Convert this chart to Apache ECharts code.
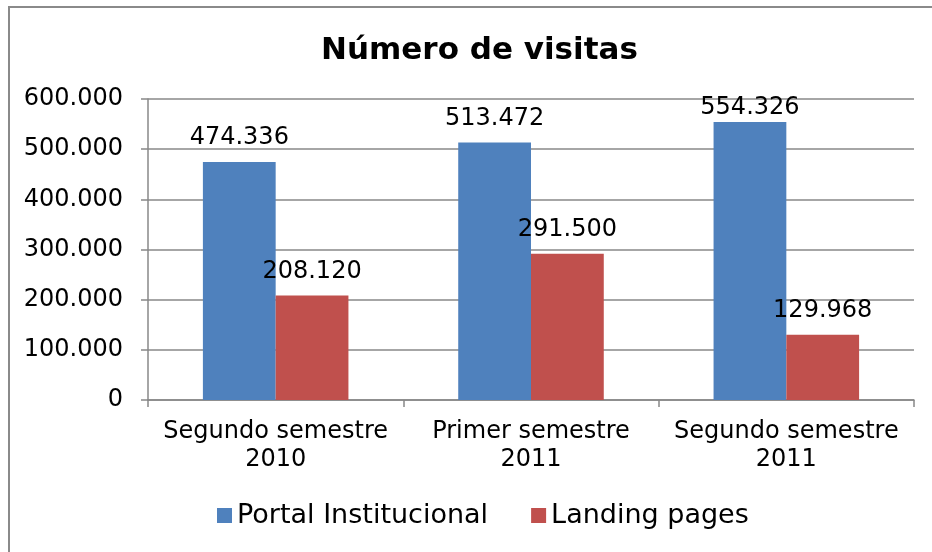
<!DOCTYPE html>
<html>
<head>
<meta charset="utf-8">
<script src="https://cdn.jsdelivr.net/npm/echarts@6/dist/echarts.min.js"></script>
<style>
  html, body { margin: 0; padding: 0; background: #fff; }
  #chart { width: 932px; height: 552px; }
</style>
</head>
<body>
<div id="chart"></div>
<script>
'use strict';

var categories = ['Segundo semestre\n2010', 'Primer semestre\n2011', 'Segundo semestre\n2011'];
var portalValues = [474336, 513472, 554326];
var landingValues = [208120, 291500, 129968];
var seriesNames = ['Portal Institucional', 'Landing pages'];

var FONT = 'DejaVu Sans';

// 474336 -> "474.336"
function fmt(v) {
  return String(v).replace(/\B(?=(\d{3})+(?!\d))/g, '.');
}

// labels that would run past the top of the plot get pulled down onto the bar (like Excel does)
function withLabels(values) {
  return values.map(function (v) {
    if (v > 540000) return { value: v, label: { distance: 2 } };
    return v;
  });
}

var chart = echarts.init(document.getElementById('chart'));

var labelStyle = {
  show: true,
  position: 'top',
  distance: 12,
  color: '#000',
  fontFamily: FONT,
  fontSize: 24,
  formatter: function (p) { return fmt(p.value); }
};

var option = {
  animation: false,
  title: {
    text: 'Número de visitas',
    left: 316,
    top: 30,
    textStyle: { fontFamily: FONT, fontSize: 31, fontWeight: 'bold', color: '#000' }
  },
  graphic: [{
    type: 'polyline',
    shape: { points: [[9, 552], [9, 7], [932, 7]] },
    style: { stroke: '#8a8a8a', lineWidth: 2, fill: null }
  }],
  legend: {
    bottom: 18,
    left: 212,
    itemWidth: 15,
    itemHeight: 15,
    itemGap: 43,
    itemStyle: { borderWidth: 0 },
    icon: 'rect',
    textStyle: { fontFamily: FONT, fontSize: 27, color: '#000' },
    data: seriesNames
  },
  grid: { left: 148, right: 18, top: 99, bottom: 152 },
  xAxis: {
    type: 'category',
    data: categories,
    axisLine: { lineStyle: { color: '#888', width: 1.5 } },
    axisTick: { show: true, length: 7, interval: 0, alignWithLabel: false, lineStyle: { color: '#888', width: 1.5 } },
    axisLabel: { interval: 0, fontFamily: FONT, fontSize: 24, color: '#000', lineHeight: 28, margin: 18 }
  },
  yAxis: {
    type: 'value',
    min: 0,
    max: 600000,
    interval: 100000,
    axisLine: { show: true, lineStyle: { color: '#888', width: 1.5 } },
    axisTick: { show: true, length: 7, lineStyle: { color: '#888', width: 1.5 } },
    splitLine: { lineStyle: { color: '#888', width: 1.5 } },
    axisLabel: { fontFamily: FONT, fontSize: 24, color: '#000', margin: 25, formatter: fmt }
  },
  series: [{
    name: seriesNames[0],
    type: 'bar',
    data: withLabels(portalValues),
    barGap: '0%',
    barCategoryGap: '43%',
    itemStyle: { color: '#4F81BD' },
    label: labelStyle
  }, {
    name: seriesNames[1],
    type: 'bar',
    data: withLabels(landingValues),
    barGap: '0%',
    barCategoryGap: '43%',
    itemStyle: { color: '#C0504D' },
    label: labelStyle
  }]
};

chart.setOption(option);
</script>
</body>
</html>
